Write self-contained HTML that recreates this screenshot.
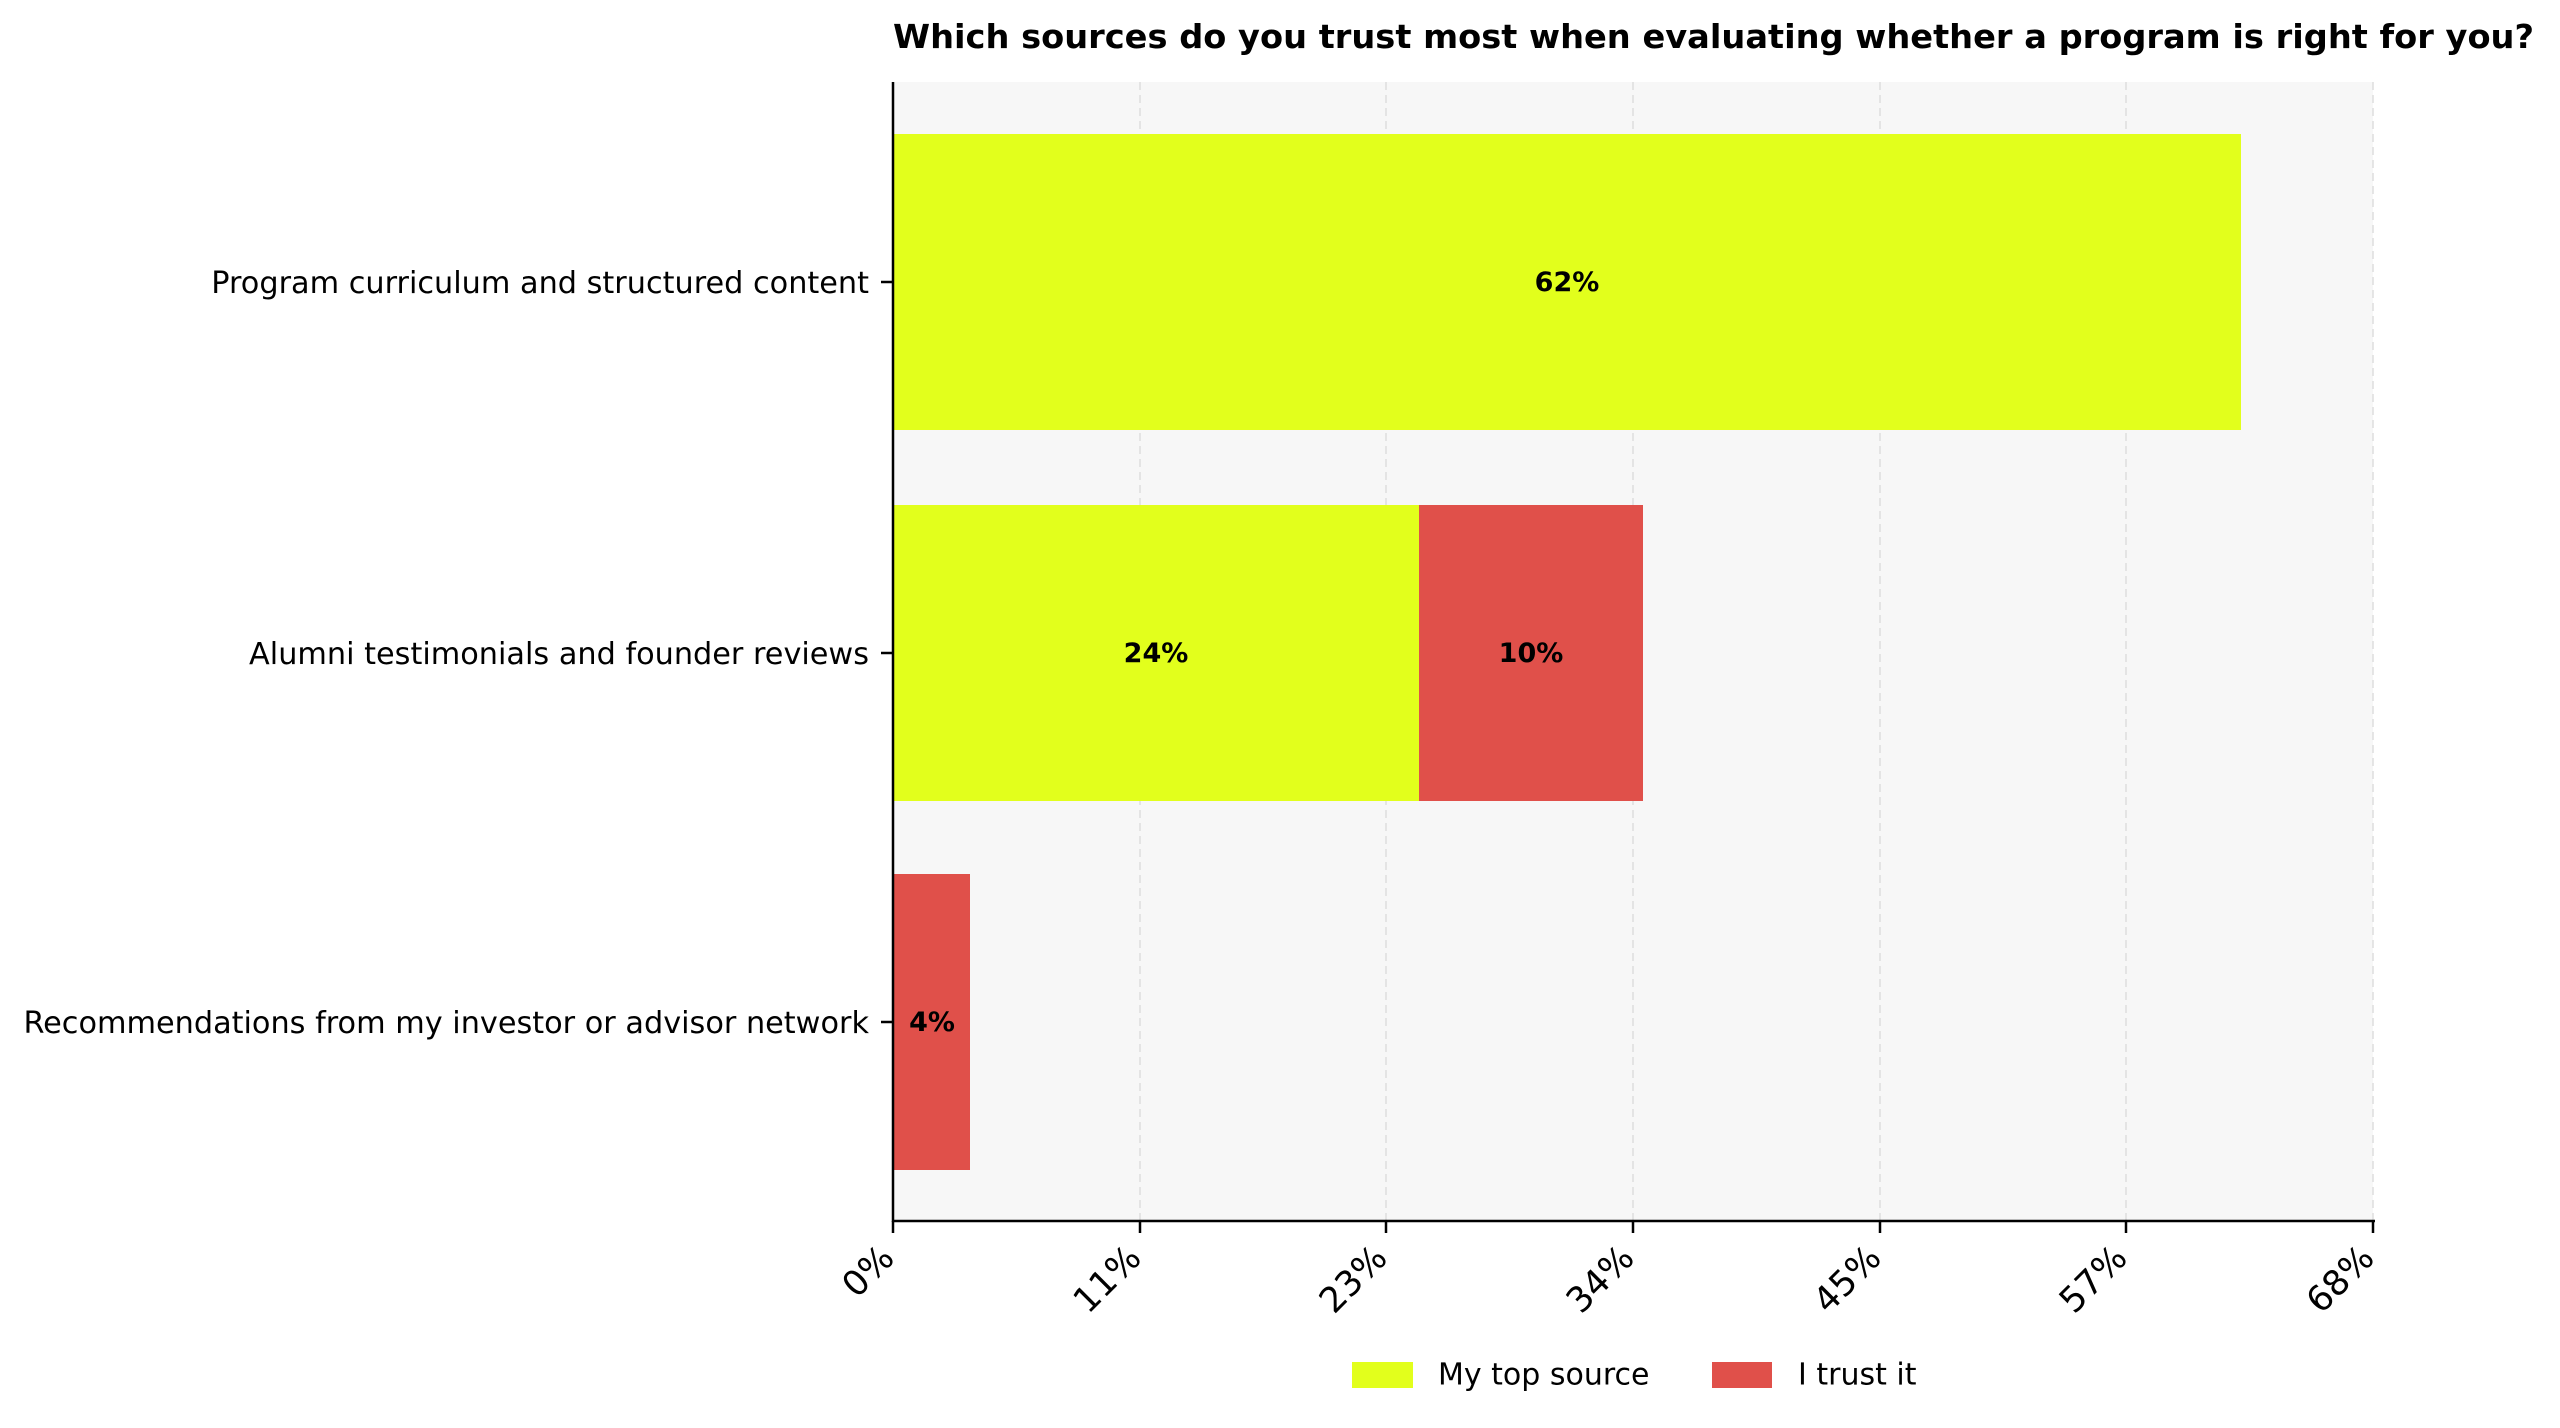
<!DOCTYPE html>
<html><head><meta charset="utf-8"><style>html,body{margin:0;padding:0;background:#fff}svg{display:block}</style></head>
<body>
<svg width="2560" height="1428" xmlns="http://www.w3.org/2000/svg" font-family="'DejaVu Sans','Liberation Sans',sans-serif">
<rect x="893" y="82" width="1480" height="1139" fill="#f7f7f7"/>
<g stroke="#dddddd" stroke-width="1.5" stroke-dasharray="8,5">
<line x1="1140" y1="82" x2="1140" y2="1221"/><line x1="1386" y1="82" x2="1386" y2="1221"/><line x1="1633" y1="82" x2="1633" y2="1221"/><line x1="1880" y1="82" x2="1880" y2="1221"/><line x1="2126" y1="82" x2="2126" y2="1221"/><line x1="2373" y1="82" x2="2373" y2="1221"/>
</g>
<rect x="893" y="134" width="1348" height="296" fill="#e2ff1c"/>
<rect x="893" y="505" width="526" height="296" fill="#e2ff1c"/>
<rect x="1419" y="505" width="224" height="296" fill="#e0504a"/>
<rect x="893" y="874" width="77" height="296" fill="#e0504a"/>
<g font-weight="bold" font-size="27" text-anchor="middle" fill="#000">
<text x="1567" y="291">62%</text><text x="1156" y="662">24%</text><text x="1531" y="662">10%</text><text x="932" y="1031">4%</text>
</g>
<line x1="893" y1="82" x2="893" y2="1222" stroke="#000" stroke-width="2.5"/>
<line x1="892" y1="1221" x2="2375" y2="1221" stroke="#000" stroke-width="2.5"/>
<g stroke="#000" stroke-width="2.5">
<line x1="893" y1="1221" x2="893" y2="1233"/><line x1="1140" y1="1221" x2="1140" y2="1233"/><line x1="1386" y1="1221" x2="1386" y2="1233"/><line x1="1633" y1="1221" x2="1633" y2="1233"/><line x1="1880" y1="1221" x2="1880" y2="1233"/><line x1="2126" y1="1221" x2="2126" y2="1233"/><line x1="2373" y1="1221" x2="2373" y2="1233"/>
<line x1="881" y1="282" x2="893" y2="282"/><line x1="881" y1="653" x2="893" y2="653"/><line x1="881" y1="1022" x2="893" y2="1022"/>
</g>
<g font-size="30.3" text-anchor="end" fill="#000">
<text x="869" y="293">Program curriculum and structured content</text>
<text x="869" y="664">Alumni testimonials and founder reviews</text>
<text x="869" y="1033">Recommendations from my investor or advisor network</text>
</g>
<g font-size="35" text-anchor="end" fill="#000">
<text transform="translate(896,1260) rotate(-45)">0%</text>
<text transform="translate(1143,1260) rotate(-45)">11%</text>
<text transform="translate(1389,1260) rotate(-45)">23%</text>
<text transform="translate(1636,1260) rotate(-45)">34%</text>
<text transform="translate(1883,1260) rotate(-45)">45%</text>
<text transform="translate(2129,1260) rotate(-45)">57%</text>
<text transform="translate(2376,1260) rotate(-45)">68%</text>
</g>
<text x="893" y="48" font-size="33" font-weight="bold" fill="#000" textLength="1641" lengthAdjust="spacingAndGlyphs">Which sources do you trust most when evaluating whether a program is right for you?</text>
<rect x="1352" y="1362" width="61" height="26" fill="#e2ff1c"/>
<text x="1438" y="1375" font-size="30" dominant-baseline="central" fill="#000">My top source</text>
<rect x="1712" y="1362" width="60" height="26" fill="#e0504a"/>
<text x="1798" y="1375" font-size="30" dominant-baseline="central" fill="#000">I trust it</text>
</svg>
</body></html>
